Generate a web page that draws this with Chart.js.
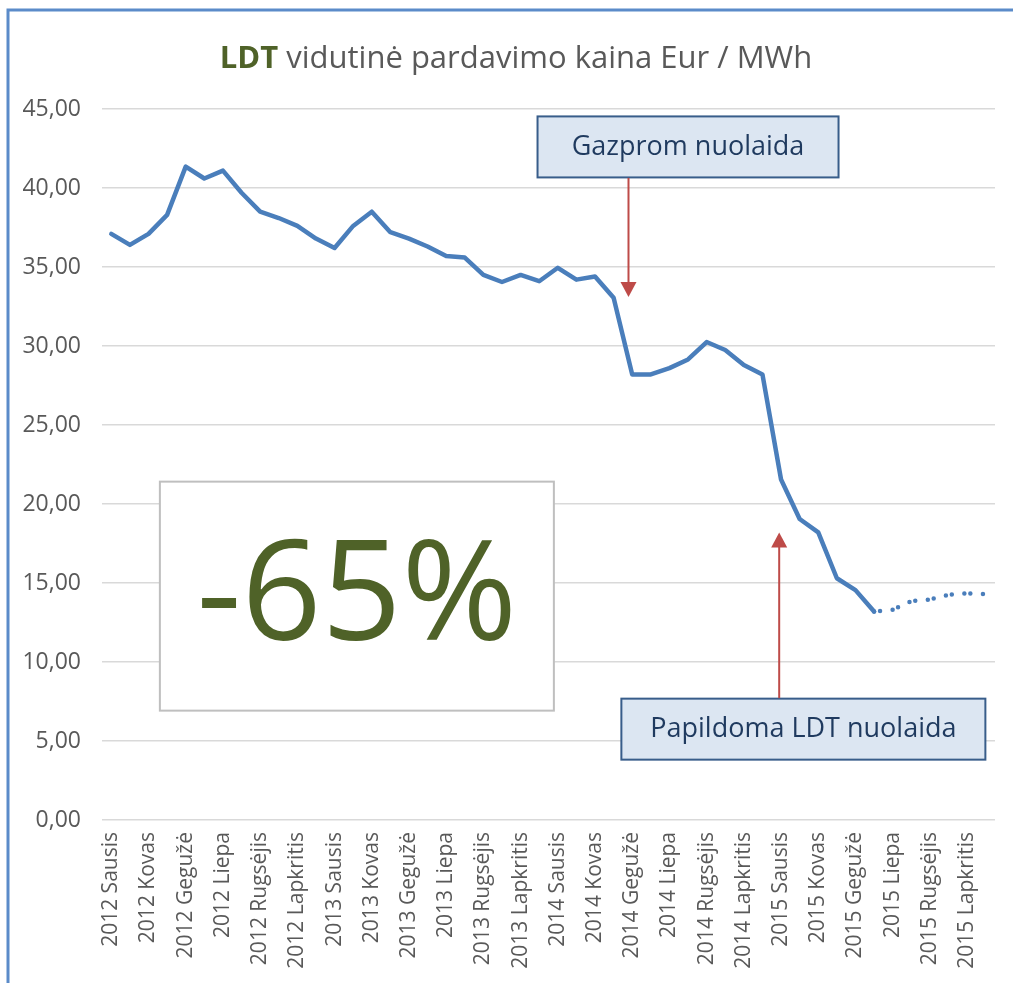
<!DOCTYPE html>
<html lang="lt">
<head>
<meta charset="utf-8">
<title>LDT vidutinė pardavimo kaina</title>
<script src="https://cdn.jsdelivr.net/npm/chart.js@4"></script>
<style>
  html, body { margin: 0; padding: 0; background: #ffffff; }
  #chart { display: block; }
</style>
</head>
<body>
<canvas id="chart" width="1013" height="983"></canvas>
<script>
// ================== Data ==================
const years = [2012, 2013, 2014, 2015];
const monthNames = ["Sausis", "Vasaris", "Kovas", "Balandis", "Gegužė", "Birželis",
  "Liepa", "Rugpjūtis", "Rugsėjis", "Spalis", "Lapkritis", "Gruodis"];

// actual prices, 2012 Sausis .. 2015 Birželis
const actualPrices = [
  37.1, 36.4, 37.1, 38.3, 41.35, 40.6, 41.1, 39.7, 38.5, 38.1, 37.6, 36.8,
  36.2, 37.6, 38.5, 37.2, 36.8, 36.3, 35.7, 35.6, 34.5, 34.05, 34.5, 34.1,
  34.95, 34.2, 34.4, 33.05, 28.2, 28.2, 28.6, 29.15, 30.25, 29.75, 28.8, 28.2,
  21.55, 19.05, 18.2, 15.3, 14.55, 13.2
];
// forecast, 2015 Birželis .. 2015 Gruodis
const forecastPrices = [13.2, 13.3, 13.85, 13.95, 14.25, 14.35, 14.3];

const yTicks = [0, 5, 10, 15, 20, 25, 30, 35, 40, 45];

// ================== Build series ==================
const labels = [];
years.forEach((y) => monthNames.forEach((m) => labels.push(y + " " + m)));

const solidData = labels.map((_, i) => (i < actualPrices.length ? actualPrices[i] : null));
const forecastStart = actualPrices.length - 1;
const dottedData = labels.map((_, i) =>
  i >= forecastStart && i - forecastStart < forecastPrices.length ? forecastPrices[i - forecastStart] : null
);

const FONT = "'Open Sans', 'Noto Sans', sans-serif";
const GRAY = "#595959";
const GREEN = "#4f6228";
const LINE_BLUE = "#4a7ebb";
const ARROW_RED = "#be4b48";

// ================== Decorations ==================
function drawCallout(ctx, text, cx, cy, w, h) {
  ctx.save();
  ctx.fillStyle = "#dce6f2";
  ctx.strokeStyle = "#385d8a";
  ctx.lineWidth = 2;
  ctx.fillRect(cx - w / 2, cy - h / 2, w, h);
  ctx.strokeRect(cx - w / 2, cy - h / 2, w, h);
  ctx.fillStyle = "#1f3a5f";
  ctx.font = "27px " + FONT;
  ctx.textAlign = "center";
  ctx.textBaseline = "middle";
  ctx.fillText(text, cx, cy);
  ctx.restore();
}

function drawArrow(ctx, x, yFrom, yTip) {
  const dir = yTip > yFrom ? 1 : -1;
  ctx.save();
  ctx.strokeStyle = ARROW_RED;
  ctx.fillStyle = ARROW_RED;
  ctx.lineWidth = 2;
  ctx.beginPath();
  ctx.moveTo(x, yFrom);
  ctx.lineTo(x, yTip - dir * 12);
  ctx.stroke();
  ctx.beginPath();
  ctx.moveTo(x, yTip);
  ctx.lineTo(x - 8, yTip - dir * 15);
  ctx.lineTo(x + 8, yTip - dir * 15);
  ctx.closePath();
  ctx.fill();
  ctx.restore();
}

const decorations = {
  id: "decorations",
  beforeDraw(chart) {
    const ctx = chart.ctx;
    ctx.save();
    // outer frame
    ctx.strokeStyle = "#5b8bc9";
    ctx.lineWidth = 3;
    ctx.beginPath();
    ctx.moveTo(8, chart.height);
    ctx.lineTo(8, 10);
    ctx.lineTo(chart.width, 10);
    ctx.stroke();

    // title
    const bold = "bold 31px " + FONT;
    const normal = "31px " + FONT;
    const head = "LDT";
    const rest = " vidutinė pardavimo kaina Eur / MWh";
    ctx.font = bold;
    const w1 = ctx.measureText(head).width;
    ctx.font = normal;
    const w2 = ctx.measureText(rest).width;
    const startX = 516 - (w1 + w2) / 2;
    ctx.textBaseline = "alphabetic";
    ctx.textAlign = "left";
    ctx.font = bold;
    ctx.fillStyle = GREEN;
    ctx.fillText(head, startX, 68);
    ctx.font = normal;
    ctx.fillStyle = GRAY;
    ctx.fillText(rest, startX + w1, 68);
    ctx.restore();
  },
  afterDraw(chart) {
    const ctx = chart.ctx;
    const x = chart.scales.x;
    const y = chart.scales.y;

    // big "-65%" box
    const bx = x.getPixelForValue(13.2);
    const by = y.getPixelForValue(14.2);
    ctx.save();
    ctx.fillStyle = "#ffffff";
    ctx.strokeStyle = "#bfbfbf";
    ctx.lineWidth = 2;
    ctx.fillRect(bx - 197, by - 114, 394, 229);
    ctx.strokeRect(bx - 197, by - 114, 394, 229);
    ctx.fillStyle = GREEN;
    ctx.font = "140px " + FONT;
    ctx.textAlign = "center";
    ctx.textBaseline = "middle";
    ctx.fillText("-65%", bx, by + 4);
    ctx.restore();

    // Gazprom callout + arrow
    const gx = x.getPixelForValue(31.0);
    const gy = y.getPixelForValue(42.6);
    drawCallout(ctx, "Gazprom nuolaida", gx, gy, 301, 61);
    const ax1 = x.getPixelForValue(27.8);
    drawArrow(ctx, ax1, gy + 31, y.getPixelForValue(33.1));

    // LDT callout + arrow
    const px = x.getPixelForValue(37.2);
    const py = y.getPixelForValue(5.75);
    drawCallout(ctx, "Papildoma LDT nuolaida", px, py, 364, 61);
    const ax2 = x.getPixelForValue(35.9);
    drawArrow(ctx, ax2, py - 31, y.getPixelForValue(18.2));
  }
};

// ================== Chart ==================
const ctx = document.getElementById("chart").getContext("2d");
const chart = new Chart(ctx, {
  type: "line",
  data: {
    labels: labels,
    datasets: [
      {
        label: "Kaina",
        data: solidData,
        borderColor: LINE_BLUE,
        borderWidth: 4.5,
        borderJoinStyle: "round",
        borderCapStyle: "round",
        pointRadius: 0,
        tension: 0,
        fill: false,
      },
      {
        label: "Prognozė",
        data: dottedData,
        borderColor: LINE_BLUE,
        borderWidth: 4.5,
        borderCapStyle: "round",
        borderDash: [0, 6, 0, 12.6],
        pointRadius: 0,
        tension: 0,
        fill: false,
      },
    ],
  },
  options: {
    responsive: false,
    animation: false,
    layout: { padding: { top: 109, right: 18, left: 0, bottom: 0 } },
    plugins: {
      legend: { display: false },
      title: { display: false },
      tooltip: { enabled: false },
    },
    scales: {
      x: {
        offset: true,
        grid: { display: false, drawTicks: false },
        border: { display: false },
        afterFit(scale) {
          scale.height = 163;
          scale.paddingLeft = 0;
          scale.paddingRight = 0;
        },
        ticks: {
          autoSkip: false,
          minRotation: 90,
          maxRotation: 90,
          padding: 12,
          color: GRAY,
          font: { family: FONT, size: 21 },
          callback: function (value, index) {
            return index % 2 ? "" : this.getLabelForValue(value);
          },
        },
      },
      y: {
        min: 0,
        max: 45,
        afterFit(scale) { scale.width = 102; },
        afterBuildTicks(scale) { scale.ticks = yTicks.map((v) => ({ value: v })); },
        grid: { color: "#d9d9d9", lineWidth: 1.5, drawTicks: false },
        border: { display: false },
        ticks: {
          padding: 21,
          color: GRAY,
          font: { family: FONT, size: 23 },
          callback: (v) => v.toFixed(2).replace(".", ","),
        },
      },
    },
  },
  plugins: [decorations],
});
</script>
</body>
</html>
